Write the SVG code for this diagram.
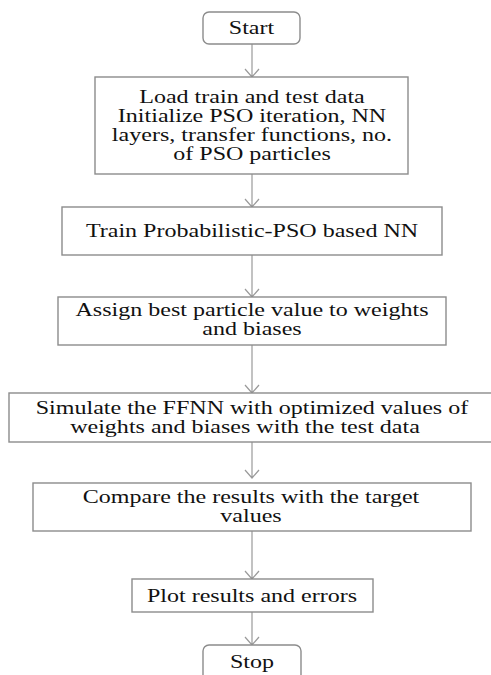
<svg xmlns="http://www.w3.org/2000/svg" width="491" height="675" viewBox="0 0 491 675">
<defs>
<style>
.box{fill:#fff;stroke:#8c8c8c;stroke-width:1.4}
.t{font-family:"Liberation Serif","Times New Roman",serif;font-size:18.5px;fill:#111;text-anchor:middle}
.c{fill:none;stroke:#9a9a9a;stroke-width:1.2}
</style>
</defs>
<rect width="491" height="675" fill="#fff"/>
<g id="connectors">
<path class="c" d="M252 44V77M245 69L252 77L259 69"/>
<path class="c" d="M252 174V207M245 199L252 207L259 199"/>
<path class="c" d="M252 255V297M245 289L252 297L259 289"/>
<path class="c" d="M252 345V393M245 385L252 393L259 385"/>
<path class="c" d="M252 442V478M245 470L252 478L259 470"/>
<path class="c" d="M252 531V579M245 571L252 579L259 571"/>
<path class="c" d="M252 612V645M245 637L252 645L259 637"/>
</g>
<g id="start">
<rect class="box" x="203" y="12" width="97" height="32" rx="6"/>
<text class="t" transform="translate(251.5,34) scale(1.3,1)">Start</text>
</g>
<g id="init">
<rect class="box" x="95" y="77" width="313" height="97"/>
<text class="t" transform="translate(252,103) scale(1.3,1)">Load train and test data</text>
<text class="t" transform="translate(252,122) scale(1.3,1)">Initialize PSO iteration, NN</text>
<text class="t" transform="translate(252,141) scale(1.3,1)">layers, transfer functions, no.</text>
<text class="t" transform="translate(252,160) scale(1.3,1)">of PSO particles</text>
</g>
<g id="train">
<rect class="box" x="62" y="207" width="380" height="48"/>
<text class="t" transform="translate(252,237) scale(1.3,1)">Train Probabilistic-PSO based NN</text>
</g>
<g id="assign">
<rect class="box" x="58" y="297" width="388" height="48"/>
<text class="t" transform="translate(252,316) scale(1.3,1)">Assign best particle value to weights</text>
<text class="t" transform="translate(252,335) scale(1.3,1)">and biases</text>
</g>
<g id="simulate">
<rect class="box" x="9" y="393" width="484" height="49"/>
<text class="t" transform="translate(252,414) scale(1.3,1)">Simulate the FFNN with optimized values of</text>
<text class="t" transform="translate(245,433) scale(1.3,1)">weights and biases with the test data</text>
</g>
<g id="compare">
<rect class="box" x="33" y="483" width="438" height="48"/>
<text class="t" transform="translate(251,503) scale(1.3,1)">Compare the results with the target</text>
<text class="t" transform="translate(251,522) scale(1.3,1)">values</text>
</g>
<g id="plot">
<rect class="box" x="132" y="579" width="241" height="33"/>
<text class="t" transform="translate(252,602) scale(1.3,1)">Plot results and errors</text>
</g>
<g id="stop">
<rect class="box" x="203" y="645" width="98" height="36" rx="6"/>
<text class="t" transform="translate(252,668) scale(1.3,1)">Stop</text>
</g>
</svg>
